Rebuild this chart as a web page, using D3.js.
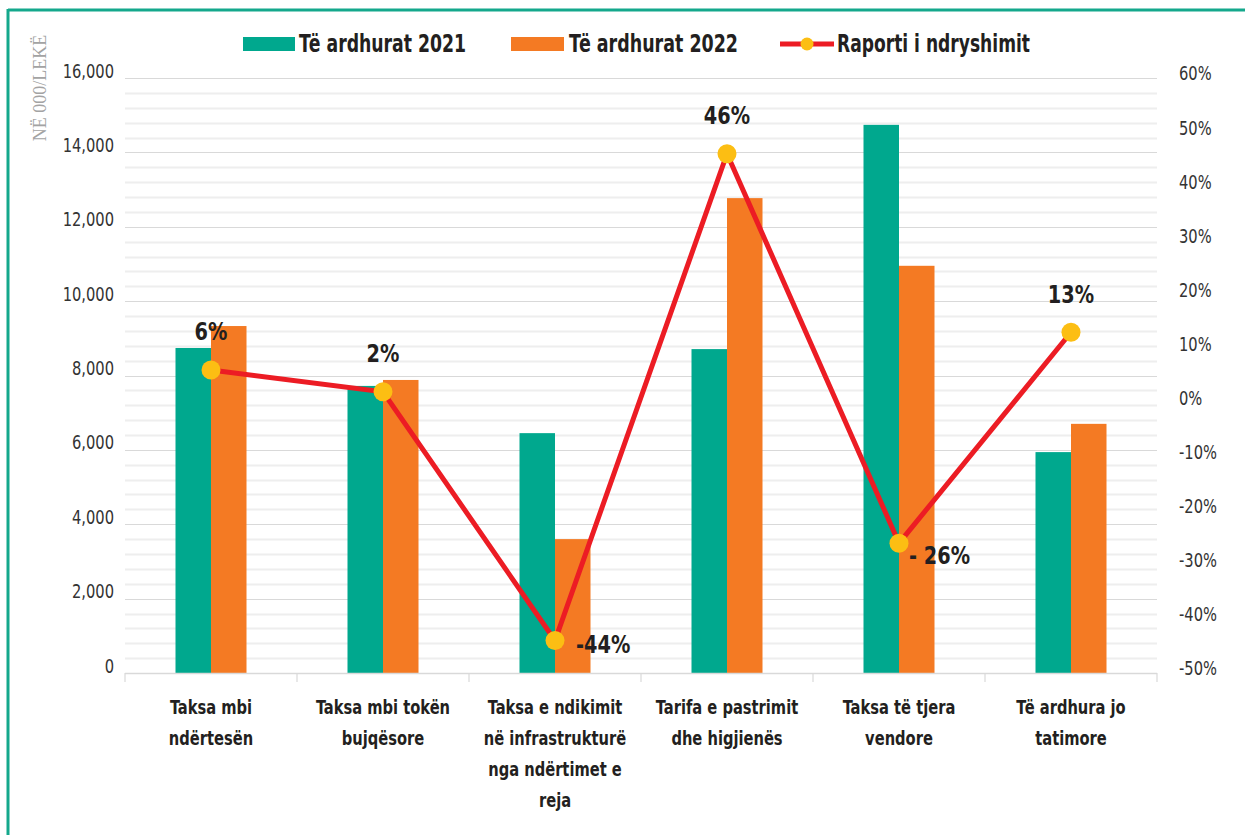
<!DOCTYPE html>
<html>
<head>
<meta charset="utf-8">
<script src="https://cdn.jsdelivr.net/npm/d3@7"></script>
<style>
  html, body { margin: 0; padding: 0; background: #ffffff; }
  svg { display: block; }
  .cond { font-family: "Liberation Sans Narrow", "DejaVu Sans Condensed", "Roboto", sans-serif; }
</style>
</head>
<body>
<svg id="chart" width="1245" height="835"></svg>
<script>
// Categories (multi-line labels)
const categories = [
  ["Taksa mbi", "ndërtesën"],
  ["Taksa mbi tokën", "bujqësore"],
  ["Taksa e ndikimit", "në infrastrukturë", "nga ndërtimet e", "reja"],
  ["Tarifa e pastrimit", "dhe higjienës"],
  ["Taksa të tjera", "vendore"],
  ["Të ardhura jo", "tatimore"]
];
// Revenue, thousand lekë
const revenue2021 = [8740, 7720, 6450, 8710, 14740, 5940];
const revenue2022 = [9330, 7880, 3600, 12770, 10950, 6700];
// Change ratio, percent
const changeRatio = [6, 2, -44, 46, -26, 13];
const changeLabels = ["6%", "2%", "-44%", "46%", "- 26%", "13%"];
// Axis ticks
const leftTicks = [0, 2000, 4000, 6000, 8000, 10000, 12000, 14000, 16000];
const rightTicks = [-50, -40, -30, -20, -10, 0, 10, 20, 30, 40, 50, 60];
const seriesNames = ["Të ardhurat 2021", "Të ardhurat 2022", "Raporti i ndryshimit"];

const colors = { y2021: "#00a88e", y2022: "#f47a23", line: "#ec1c24", dot: "#fcbe13", frame: "#14a88c" };
const ink = "#231f20";
const svg = d3.select("#chart");
const margin = { left: 125, right: 1157, top: 78, bottom: 673 };
const squeeze = 0.86; // horizontal condensing applied to the text

// Frame (top and left edges)
svg.append("line").attr("x1", 8).attr("x2", 1245).attr("y1", 10).attr("y2", 10)
  .attr("stroke", colors.frame).attr("stroke-width", 3);
svg.append("line").attr("x1", 8).attr("x2", 8).attr("y1", 9).attr("y2", 835)
  .attr("stroke", colors.frame).attr("stroke-width", 3);

const x = d3.scaleBand().domain(d3.range(categories.length)).range([margin.left, margin.right]).padding(0);
const y = d3.scaleLinear().domain([0, 16000]).range([margin.bottom, margin.top]);
const y2 = d3.scaleLinear().domain([-50, 60]).range([margin.bottom, margin.top]);

// Gridlines: light every 400, slightly darker every 2000
const grid = svg.append("g");
d3.range(400, 16001, 400).forEach(v => {
  const major = v % 2000 === 0;
  grid.append("line")
    .attr("x1", margin.left).attr("x2", margin.right)
    .attr("y1", Math.round(y(v)) + 0.5).attr("y2", Math.round(y(v)) + 0.5)
    .attr("stroke", major ? "#d9d9d9" : "#eeeeee")
    .attr("stroke-width", major ? 1.2 : 2);
});

// Left axis
const leftAxis = svg.append("g").attr("transform", `translate(${margin.left},0)`)
  .call(d3.axisLeft(y).tickValues(leftTicks).tickFormat(d3.format(",")).tickSize(0).tickPadding(11));
leftAxis.select(".domain").remove();
leftAxis.selectAll("text").attr("class", "cond").attr("font-size", 19).attr("fill", "#333")
  .attr("x", -11 / squeeze).attr("transform", `scale(${squeeze},1)`)
  .attr("dy", "-0.05em");

// Right axis
const rightAxis = svg.append("g").attr("transform", `translate(${margin.right},0)`)
  .call(d3.axisRight(y2).tickValues(rightTicks).tickFormat(d => d + "%").tickSize(0).tickPadding(22));
rightAxis.select(".domain").remove();
rightAxis.selectAll("text").attr("class", "cond").attr("font-size", 19).attr("fill", "#333")
  .attr("x", 22 / squeeze).attr("transform", `scale(${squeeze},1)`)
  .attr("dy", "0.1em");

// Axis title
svg.append("text")
  .attr("transform", "translate(46,88) rotate(-90)")
  .attr("text-anchor", "middle")
  .attr("font-family", "Liberation Serif, DejaVu Serif, serif")
  .attr("font-size", 18).attr("fill", "#a3a3a3")
  .text("NË 000/LEKË");

// Bars
const barW = 35.5;
const bars = svg.append("g");
bars.selectAll(".b21").data(revenue2021).join("rect")
  .attr("x", (d, i) => x(i) + x.bandwidth() / 2 - barW)
  .attr("y", d => y(d)).attr("width", barW).attr("height", d => y(0) - y(d))
  .attr("fill", colors.y2021);
bars.selectAll(".b22").data(revenue2022).join("rect")
  .attr("x", (d, i) => x(i) + x.bandwidth() / 2)
  .attr("y", d => y(d)).attr("width", barW).attr("height", d => y(0) - y(d))
  .attr("fill", colors.y2022);

// Bottom axis line and category dividers
const bx = svg.append("g");
bx.append("line").attr("x1", margin.left).attr("x2", margin.right)
  .attr("y1", margin.bottom + 0.5).attr("y2", margin.bottom + 0.5)
  .attr("stroke", "#d9d9d9").attr("stroke-width", 1.5);
d3.range(categories.length + 1).forEach(i => {
  const xx = margin.left + i * x.bandwidth();
  bx.append("line").attr("x1", xx).attr("x2", xx)
    .attr("y1", margin.bottom).attr("y2", margin.bottom + 9)
    .attr("stroke", "#d9d9d9").attr("stroke-width", 1.2);
});

// Category labels
categories.forEach((lines, i) => {
  const g = svg.append("g")
    .attr("transform", `translate(${x(i) + x.bandwidth() / 2},0) scale(${squeeze},1)`);
  const t = g.append("text").attr("class", "cond")
    .attr("text-anchor", "middle").attr("font-size", 19).attr("font-weight", "bold")
    .attr("fill", ink);
  lines.forEach((ln, k) => {
    t.append("tspan").attr("x", 0).attr("y", 714 + k * 31).text(ln);
  });
});

// Change ratio line
const cx = i => x(i) + x.bandwidth() / 2;
svg.append("path").datum(changeRatio)
  .attr("d", d3.line().x((d, i) => cx(i)).y(d => y2(d)))
  .attr("fill", "none").attr("stroke", colors.line).attr("stroke-width", 5)
  .attr("stroke-linejoin", "miter");
svg.selectAll(".dot").data(changeRatio).join("circle")
  .attr("cx", (d, i) => cx(i)).attr("cy", d => y2(d)).attr("r", 9.5)
  .attr("fill", colors.dot);

// Value labels: above the point, or to the lower right for the deep dips
const labelPlacement = [
  { dx: 0, dy: -30, anchor: "middle" },
  { dx: 0, dy: -30, anchor: "middle" },
  { dx: 21, dy: 12, anchor: "start" },
  { dx: 0, dy: -30, anchor: "middle" },
  { dx: 10, dy: 21, anchor: "start" },
  { dx: 0, dy: -29, anchor: "middle" }
];
svg.selectAll(".vlab").data(changeRatio).join("g")
  .attr("transform", (d, i) =>
    `translate(${cx(i) + labelPlacement[i].dx},${y2(d) + labelPlacement[i].dy}) scale(${squeeze},1)`)
  .append("text").attr("class", "cond")
  .attr("text-anchor", (d, i) => labelPlacement[i].anchor)
  .attr("font-size", 25).attr("font-weight", "bold").attr("fill", ink)
  .text((d, i) => changeLabels[i]);

// Legend
const lg = svg.append("g");
const legendText = (xPos, width, label) =>
  lg.append("text").attr("class", "cond").attr("x", xPos).attr("y", 52)
    .attr("font-size", 25).attr("font-weight", "bold").attr("fill", ink)
    .attr("textLength", width).attr("lengthAdjust", "spacingAndGlyphs").text(label);
lg.append("rect").attr("x", 243).attr("y", 37).attr("width", 52).attr("height", 14).attr("fill", colors.y2021);
legendText(299, 167, seriesNames[0]);
lg.append("rect").attr("x", 511).attr("y", 37).attr("width", 53).attr("height", 14).attr("fill", colors.y2022);
legendText(569, 169, seriesNames[1]);
lg.append("line").attr("x1", 780).attr("x2", 834).attr("y1", 44).attr("y2", 44)
  .attr("stroke", colors.line).attr("stroke-width", 5);
lg.append("circle").attr("cx", 807).attr("cy", 44).attr("r", 6.5).attr("fill", colors.dot);
legendText(837, 193, seriesNames[2]);
</script>
</body>
</html>
